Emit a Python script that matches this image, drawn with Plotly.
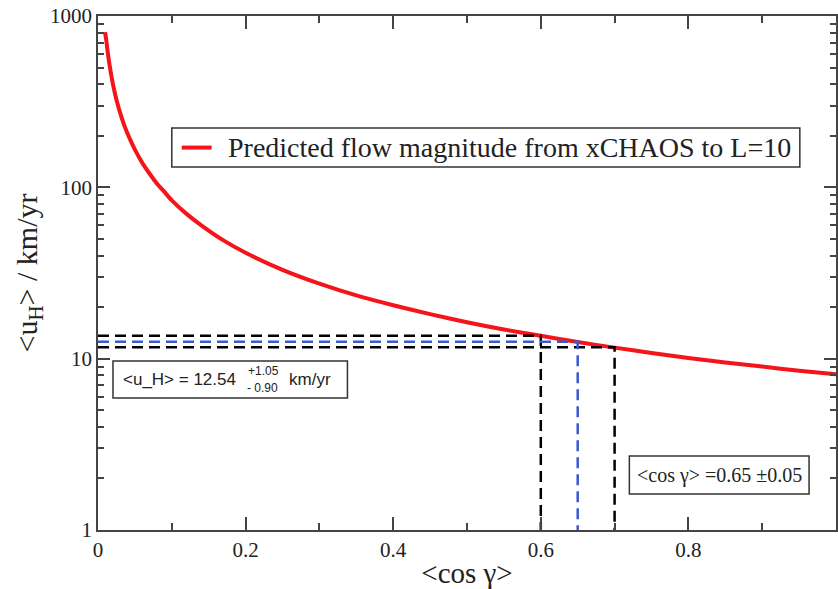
import plotly.graph_objects as go

# data
cos_gamma = [0.0095, 0.011, 0.013, 0.015, 0.0175, 0.02, 0.0225, 0.025, 0.03, 0.035, 0.04, 0.045,
             0.05, 0.06, 0.07, 0.08, 0.09, 0.1, 0.12, 0.14, 0.17, 0.2, 0.25, 0.3, 0.35, 0.4,
             0.45, 0.5, 0.55, 0.6, 0.65, 0.7, 0.75, 0.8, 0.85, 0.9, 0.95, 1.0]
flow = [805, 735, 622, 540, 463, 405, 360, 325, 272, 234, 206, 184,
        166, 139, 120, 105, 94, 84, 70, 60, 49, 41.5, 33, 27.4, 23.4, 20.5,
        18.2, 16.3, 14.8, 13.6, 12.5, 11.6, 10.8, 10.1, 9.5, 9.0, 8.5, 8.1]

u_mean, u_plus, u_minus = 12.54, 1.05, 0.90
c_mean, c_err = 0.65, 0.05
c_lo, c_hi = c_mean - c_err, c_mean + c_err
u_hi, u_lo = u_mean + u_plus, u_mean - u_minus

legend_label = "Predicted flow magnitude from xCHAOS to L=10"

SERIF = "Liberation Serif, Times New Roman, serif"
SANS = "Liberation Sans, Arial, sans-serif"
INK = "#222222"
RED = "#f5141a"
BLUE = "#3a5bd0"

fig = go.Figure()
fig.add_trace(go.Scatter(x=cos_gamma, y=flow, mode="lines",
                         line=dict(color=RED, width=4, shape="spline", smoothing=0.6),
                         name=legend_label, showlegend=False))

dash = "11px,6px"
fig.add_trace(go.Scatter(x=[0, c_lo, c_lo], y=[u_hi, u_hi, 1], mode="lines",
                         line=dict(color="black", width=2.5, dash=dash), showlegend=False))
fig.add_trace(go.Scatter(x=[0, c_hi, c_hi], y=[u_lo, u_lo, 1], mode="lines",
                         line=dict(color="black", width=2.5, dash=dash), showlegend=False))
fig.add_trace(go.Scatter(x=[0, c_mean, c_mean], y=[u_mean, u_mean, 1], mode="lines",
                         line=dict(color=BLUE, width=2.5, dash=dash), showlegend=False))

minor_y = [v * m for m in (1, 10, 100) for v in range(2, 10)]

fig.update_layout(
    width=838, height=589,
    margin=dict(l=98, r=0, t=16, b=59),
    paper_bgcolor="white", plot_bgcolor="white",
    font=dict(family=SERIF, color=INK),
    xaxis=dict(range=[0, 1], tickvals=[0, 0.2, 0.4, 0.6, 0.8], ticktext=["0", "0.2", "0.4", "0.6", "0.8"],
               ticks="inside", ticklen=13, tickwidth=1.5, tickcolor="#444",
               showline=True, linecolor="#444", linewidth=1.5, mirror="allticks",
               showgrid=False, zeroline=False,
               tickfont=dict(family=SERIF, size=21, color=INK),
               minor=dict(dtick=0.1, ticks="inside", ticklen=7, tickcolor="#444", tickwidth=1.5, showgrid=False),
               title=dict(text="&lt;cos γ&gt;", font=dict(family=SERIF, size=29, color=INK), standoff=2)),
    yaxis=dict(type="log", range=[0, 3], tickvals=[1, 10, 100, 1000], ticktext=["1", "10", "100", "1000"],
               ticks="inside", ticklen=12, tickwidth=1.5, tickcolor="#444",
               showline=True, linecolor="#444", linewidth=1.5, mirror="allticks",
               showgrid=False, zeroline=False,
               tickfont=dict(family=SERIF, size=21, color=INK),
               minor=dict(tickmode="array", tickvals=minor_y, ticks="inside", ticklen=6,
                          tickcolor="#444", tickwidth=1.5, showgrid=False),
               title=dict(text="&lt;u<sub>H</sub>&gt; / km/yr", font=dict(family=SERIF, size=30, color=INK), standoff=4)),
    showlegend=False,
)

# legend box (drawn by hand to match its tight layout)
fig.add_shape(type="rect", xref="paper", yref="paper", x0=0.1, x1=0.951, y0=0.706, y1=0.782,
              line=dict(color="#333", width=1.5), fillcolor="white", layer="above")
fig.add_shape(type="line", xref="paper", yref="paper", x0=0.1135, x1=0.154, y0=0.744, y1=0.744,
              line=dict(color=RED, width=4), layer="above")
fig.add_annotation(xref="paper", yref="paper", x=0.174, y=0.744, xanchor="left", yanchor="middle",
                   text=legend_label, showarrow=False, font=dict(family=SERIF, size=28, color=INK))

# annotation boxes
fig.add_shape(type="rect", xref="paper", yref="paper", x0=0.0203, x1=0.338, y0=0.257, y1=0.329,
              line=dict(color="#333", width=1.5), fillcolor="white", layer="above")
fig.add_shape(type="rect", xref="paper", yref="paper", x0=0.720, x1=0.9635, y0=0.070, y1=0.144,
              line=dict(color="#333", width=1.5), fillcolor="white", layer="above")

fig.add_annotation(xref="paper", yref="paper", x=0.031, y=0.293, xanchor="left", yanchor="middle",
                   text="&lt;u_H&gt; = 12.54", showarrow=False,
                   font=dict(family=SANS, size=17, color=INK))
fig.add_annotation(xref="paper", yref="paper", x=0.201, y=0.310, xanchor="left", yanchor="middle",
                   text="+1.05", showarrow=False, font=dict(family=SANS, size=12, color=INK))
fig.add_annotation(xref="paper", yref="paper", x=0.199, y=0.277, xanchor="left", yanchor="middle",
                   text="- 0.90", showarrow=False, font=dict(family=SANS, size=12, color=INK))
fig.add_annotation(xref="paper", yref="paper", x=0.256, y=0.293, xanchor="left", yanchor="middle",
                   text="km/yr", showarrow=False, font=dict(family=SANS, size=17, color=INK))
fig.add_annotation(xref="paper", yref="paper", x=0.842, y=0.107, xanchor="center", yanchor="middle",
                   text="&lt;cos γ&gt; =0.65 ±0.05", showarrow=False,
                   font=dict(family=SERIF, size=20, color=INK))

fig.write_html("out.html")
